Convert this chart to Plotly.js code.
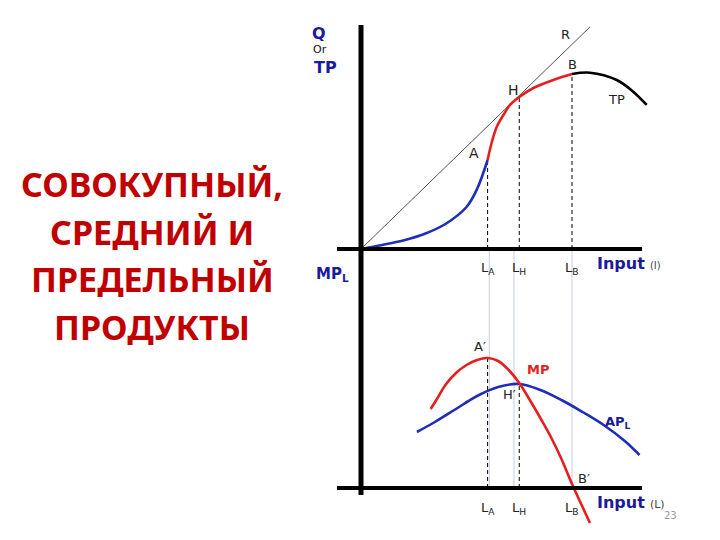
<!DOCTYPE html>
<html><head><meta charset="utf-8">
<script src="https://cdn.plot.ly/plotly-3.0.1.min.js"></script>
<style>html,body{margin:0;padding:0;background:#fff}#c{width:720px;height:540px}</style>
</head><body><div id="c"></div>
<script>
// ---- data (input units L, output units Q) ----
const tpRiseX = [0, 1, 2, 3, 4, 5, 5.5, 6];
const tpRiseY = [0, 0.4, 0.85, 1.5, 2.5, 4.2, 6.0, 8.9];
const tpMidX = [6.0, 6.19, 6.43, 6.75, 7.06, 7.5, 8.17, 9.11, 10.0];
const tpMidY = [8.9, 10.6, 12.2, 13.4, 14.4, 15.2, 16.1, 16.9, 17.5];
const tpEndX = [10.0, 10.85, 12.12, 12.9, 13.54];
const tpEndY = [17.5, 17.63, 16.9, 15.73, 14.4];
const rayX = [0, 10.85];
const rayY = [0, 22.2];
const mpX = [3.3, 3.6, 4.0, 4.5, 5.0, 5.5, 6.0, 6.5, 7.0, 7.5, 8.0, 8.5, 9.0, 9.5, 10.0, 10.5, 10.85];
const mpY = [7.9, 8.9, 10.3, 11.5, 12.3, 12.8, 13.0, 12.7, 11.8, 10.5, 8.8, 7.0, 5.1, 2.9, 0.4, -1.9, -3.5];
const apX = [2.65, 3.5, 4.5, 5.5, 6.5, 7.5, 8.5, 9.5, 10.5, 11.5, 12.5, 13.2];
const apY = [5.6, 6.6, 7.9, 9.2, 10.1, 10.4, 9.8, 8.8, 7.6, 6.3, 4.7, 3.3];
const Lpoints = [6.0, 7.5, 10.0];          // L_A, L_H, L_B
const Lnames = ["L<sub>A</sub>", "L<sub>H</sub>", "L<sub>B</sub>"];
const tpAtL = [8.9, 15.2, 17.5];
const mpApAtL = [13.0, 10.4];               // A', H'
const faintX = [6.08, 7.25, 10.0];
const titleLines = ["СОВОКУПНЫЙ,", "СРЕДНИЙ И", "ПРЕДЕЛЬНЫЙ", "ПРОДУКТЫ"];

const BLUE = '#1f2db8', RED = '#e41f1f', LBL = '#1a1a9c';
const traces = [];
Lpoints.forEach((x, i) => {
  traces.push({x: [x, x], y: [0, tpAtL[i]], xaxis: 'x', yaxis: 'y', mode: 'lines',
    line: {color: '#000', width: 1, dash: '4px,3px'}});
});
mpApAtL.forEach((v, i) => {
  traces.push({x: [Lpoints[i], Lpoints[i]], y: [0, v], xaxis: 'x', yaxis: 'y2', mode: 'lines',
    line: {color: '#000', width: 1, dash: '4px,3px'}});
});
traces.push({x: rayX, y: rayY, xaxis: 'x', yaxis: 'y', mode: 'lines', line: {color: '#555', width: 1}});
traces.push({x: tpRiseX, y: tpRiseY, xaxis: 'x', yaxis: 'y', mode: 'lines', line: {color: BLUE, width: 2.6, shape: 'spline'}});
traces.push({x: tpMidX, y: tpMidY, xaxis: 'x', yaxis: 'y', mode: 'lines', line: {color: RED, width: 2.6, shape: 'spline'}});
traces.push({x: tpEndX, y: tpEndY, xaxis: 'x', yaxis: 'y', mode: 'lines', line: {color: '#000', width: 2.6, shape: 'spline'}});
traces.push({x: apX, y: apY, xaxis: 'x', yaxis: 'y2', mode: 'lines', line: {color: BLUE, width: 2.6, shape: 'spline'}});
traces.push({x: mpX, y: mpY, xaxis: 'x', yaxis: 'y2', mode: 'lines', line: {color: RED, width: 2.6, shape: 'spline'}});

const shapes = [];
faintX.forEach(x => shapes.push({type: 'line', xref: 'x', yref: 'paper', x0: x, x1: x,
  y0: (540 - 488) / 540, y1: (540 - 250) / 540, line: {color: '#c4cee0', width: 1}, layer: 'below'}));
shapes.push({type: 'line', xref: 'x', yref: 'y', x0: -1.14, x1: 13.32, y0: 0, y1: 0, line: {color: '#000', width: 4}});
shapes.push({type: 'line', xref: 'x', yref: 'y2', x0: -1.14, x1: 13.32, y0: 0, y1: 0, line: {color: '#000', width: 4}});
shapes.push({type: 'line', xref: 'x', yref: 'paper', x0: 0, x1: 0, y0: (540 - 495) / 540, y1: (540 - 25) / 540, line: {color: '#000', width: 5}});

const F = 'DejaVu Sans';
const ann = [];
function a(text, x, y, xref, yref, size, color, extra) {
  ann.push(Object.assign({text, x, y, xref, yref, showarrow: false, xanchor: 'center', yanchor: 'middle',
    font: {family: F, size, color}}, extra || {}));
}
a('R', 9.67, 21.4, 'x', 'y', 13, '#222');
a('B', 10.0, 18.4, 'x', 'y', 13, '#222');
a('H', 7.25, 15.9, 'x', 'y', 14, '#222');
a('A', 5.36, 9.6, 'x', 'y', 14, '#222');
a('TP', 12.13, 14.9, 'x', 'y', 13, '#222');
a('O', -0.43, -0.75, 'x', 'y', 13, '#222');
Lpoints.forEach((x, i) => {
  a(Lnames[i], x, (540 - 268) / 540, 'x', 'paper', 13, '#222');
  a(Lnames[i], x, (540 - 508) / 540, 'x', 'paper', 13, '#222');
});
a("A′", 5.64, 14.1, 'x', 'y2', 13, '#222');
a("H′", 7.06, 9.3, 'x', 'y2', 13, '#222');
a("B′", 10.55, 1.0, 'x', 'y2', 13, '#222');
a('<b>MP</b>', 8.4, 11.8, 'x', 'y2', 13, RED);
a('<b>AP<sub>L</sub></b>', 12.2, 6.5, 'x', 'y2', 13, LBL);
a('<b>Input</b> <span style="font-size:10px;color:#444">(I)</span>', 595 / 720, (540 - 263) / 540, 'paper', 'paper', 16, LBL, {xanchor: 'left'});
a('<b>Input</b> <span style="font-size:11px;color:#444">(L)</span>', 595 / 720, (540 - 502) / 540, 'paper', 'paper', 16, LBL, {xanchor: 'left'});
a('<b>Q</b>', 319 / 720, (540 - 33) / 540, 'paper', 'paper', 16, LBL);
a('Or', 320 / 720, (540 - 50) / 540, 'paper', 'paper', 11, '#111');
a('<b>TP</b>', 325 / 720, (540 - 68) / 540, 'paper', 'paper', 16, LBL);
a('<b>MP<sub>L</sub></b>', 332 / 720, (540 - 274) / 540, 'paper', 'paper', 15, LBL);
a('23', 670 / 720, (540 - 515) / 540, 'paper', 'paper', 10, '#9a9a9a');
const titleY = [184, 232, 279, 327];
titleLines.forEach((t, i) => {
  ann.push({text: '<b>' + t + '</b>', x: 152 / 720, y: (540 - titleY[i]) / 540, xref: 'paper', yref: 'paper',
    xanchor: 'center', yanchor: 'middle', showarrow: false, font: {family: 'Noto Sans', size: 34, color: '#c00000'}});
});

const ax = {showgrid: false, zeroline: false, showticklabels: false, showline: false, ticks: ''};
const layout = {
  width: 720, height: 540, margin: {l: 0, r: 0, t: 0, b: 0},
  paper_bgcolor: '#fff', plot_bgcolor: 'rgba(0,0,0,0)', showlegend: false, hovermode: false,
  xaxis: Object.assign({}, ax, {domain: [330 / 720, 660 / 720], range: [-1.469, 14.17], anchor: 'y'}),
  yaxis: Object.assign({}, ax, {domain: [0.5278, 0.963], range: [-0.6, 22.9], anchor: 'x'}),
  yaxis2: Object.assign({}, ax, {domain: [0.0185, 0.5278], range: [-4.2, 23.3], anchor: 'x'}),
  shapes, annotations: ann
};
Plotly.newPlot('c', traces, layout, {staticPlot: true, displayModeBar: false});
</script></body></html>
